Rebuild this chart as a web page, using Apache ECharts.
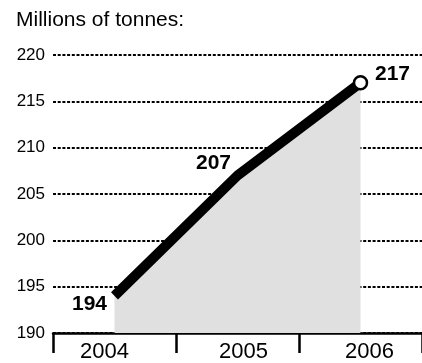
<!DOCTYPE html>
<html>
<head>
<meta charset="utf-8">
<script src="https://cdn.jsdelivr.net/npm/echarts@6/dist/echarts.min.js"></script>
<style>
  html, body { margin: 0; padding: 0; background: #fff; }
  #main { width: 422px; height: 363px; }
</style>
</head>
<body>
<div id="main"></div>
<script>
    // values
    var years = ['2004', '2005', '2006'];
    var tonnes = [194, 207, 217];
    // label nudges around each point, in px
    var labelOffsets = [[-25, 8], [-24, -12], [32, -9]];
    // year labels sit a little off the band centres in the original
    var yearPadding = [[0, 20, 0, 0], [0, 0, 0, 12], [0, 0, 0, 18]];

    var myChart = echarts.init(document.getElementById('main'));

    var seriesData = tonnes.map(function (v, i) {
        var last = i === tonnes.length - 1;
        return {
            value: v,
            symbol: 'circle',
            symbolSize: last ? 13 : 1,
            itemStyle: last
                ? { color: '#fff', borderColor: '#000', borderWidth: 2.5 }
                : { color: 'rgba(0,0,0,0)', borderWidth: 0 },
            label: {
                show: true,
                position: 'inside',
                offset: labelOffsets[i],
                formatter: String(v),
                color: '#000',
                fontFamily: 'Liberation Sans',
                fontWeight: 'bold',
                fontSize: 21
            }
        };
    });

    var yearData = years.map(function (y, i) {
        return { value: y, textStyle: { padding: yearPadding[i] } };
    });

    var option = {
        backgroundColor: '#fff',
        animation: false,
        title: {
            text: 'Millions of tonnes:',
            left: 11,
            top: 5,
            textStyle: {
                color: '#000',
                fontFamily: 'Liberation Sans',
                fontWeight: 'normal',
                fontSize: 21
            }
        },
        grid: {
            left: 53,
            right: -4,
            top: 55,
            bottom: 30
        },
        xAxis: {
            type: 'category',
            data: yearData,
            boundaryGap: true,
            axisLine: { lineStyle: { color: '#000', width: 2.5 } },
            axisTick: { show: true, length: 20, lineStyle: { color: '#000', width: 2.5 } },
            axisLabel: {
                color: '#000',
                fontFamily: 'Liberation Sans',
                fontSize: 22,
                margin: 8
            }
        },
        yAxis: {
            type: 'value',
            min: 190,
            max: 220,
            interval: 5,
            axisLine: { show: false },
            axisTick: { show: false },
            axisLabel: {
                color: '#000',
                fontFamily: 'Liberation Sans',
                fontSize: 17,
                margin: 8
            },
            splitLine: {
                lineStyle: { color: '#000', width: 2, type: [3, 1.7] }
            }
        },
        series: [{
            type: 'line',
            data: seriesData,
            lineStyle: { color: '#000', width: 10 },
            areaStyle: { color: '#e0e0e0', opacity: 1 },
            z: 3
        }]
    };
    myChart.setOption(option);
</script>
</body>
</html>
